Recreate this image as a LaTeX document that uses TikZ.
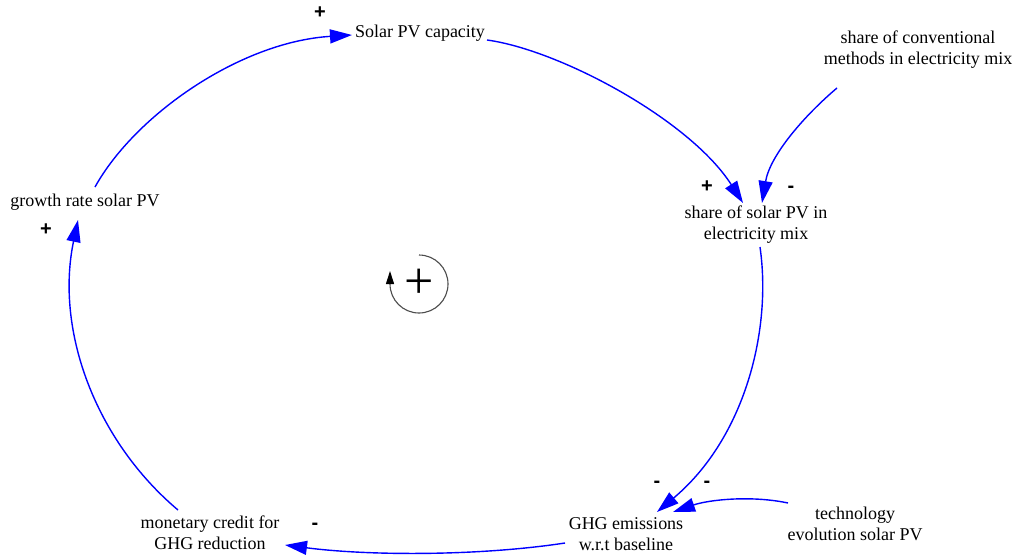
\documentclass[tikz,border=0pt]{standalone}
\usepackage{fontspec}
\setmainfont{Liberation Serif}
\newfontfamily\varfont{Liberation Serif}
\newfontfamily\signfont{Liberation Sans}
\usetikzlibrary{arrows.meta,calc}

\tikzset{
  var/.style={inner sep=0pt, align=center, font=\varfont\fontsize{18}{21}\selectfont},
  link/.style={draw={rgb,255:red,0;green,0;blue,255}, line width=1.4pt,
    -{Triangle[length=22pt,width=14pt]}},
  polarity/.style={inner sep=0pt, font=\signfont\bfseries\fontsize{20}{20}\selectfont},
  loopmark/.style={draw=black!70, line width=1.1pt}
}

\begin{document}
\begin{tikzpicture}[x=1pt,y=-1pt]
\useasboundingbox (0,0) rectangle (1018,557);

% variables
\node[var] (cap)    at (420,33)   {Solar PV capacity};
\node[var] (share)  at (756,225)  {share of solar PV in\\electricity mix};
\node[var] (conv)   at (918,49.5) {share of conventional\\methods in electricity mix};
\node[var] (ghg)    at (626,534)  {GHG emissions\\w.r.t baseline};
\node[var] (tech)   at (855,524)  {technology\\evolution solar PV};
\node[var] (credit) at (210,533)  {monetary credit for\\GHG reduction};
\node[var] (growth) at (85,202)   {growth rate solar PV};

% causal links
\draw[link] ($(cap)+(67,7)$) .. controls (560,50) and (690,120) .. ($(share)+(-13,-22)$);
\draw[link] ($(conv)+(-81,38.5)$) .. controls (805,115) and (770,155) .. ($(share)+(6,-22)$);
\draw[link] ($(share)+(4,22)$) .. controls (772,330) and (745,438) .. ($(ghg)+(31,-22)$);
\draw[link] ($(tech)+(-67,-21)$) .. controls (750,495) and (708,500) .. ($(ghg)+(47,-22)$);
\draw[link] ($(ghg)+(-61,9)$) .. controls (480,556) and (370,556) .. ($(credit)+(75,12)$);
\draw[link] ($(credit)+(-32,-23)$) .. controls (95,440) and (55,330) .. ($(growth)+(-7,18)$);
\draw[link] ($(growth)+(10,-15)$) .. controls (135,115) and (240,42) .. ($(cap)+(-68,2)$);

% link polarities
\node[polarity] (p1) at (320,13)  {+};
\node[polarity] (p2) at (707,187) {+};
\node[polarity] (p3) at (791,189) {-};
\node[polarity] (p4) at (657,484) {-};
\node[polarity] (p5) at (707,484) {-};
\node[polarity] (p6) at (315,526) {-};
\node[polarity] (p7) at (46,230)  {+};

% reinforcing loop marker (y axis points down, so angles run clockwise)
\coordinate (lc) at (419,284);
\draw[loopmark, -{Triangle[length=13pt,width=8pt,color=black]}]
  ($(lc)+(0,-29)$) arc[start angle=-90, end angle=180, radius=29] -- ++(0,-13);
\node[inner sep=0pt, font=\varfont\fontsize{52}{52}\selectfont] (lp) at (lc) {+};
\end{tikzpicture}
\end{document}
